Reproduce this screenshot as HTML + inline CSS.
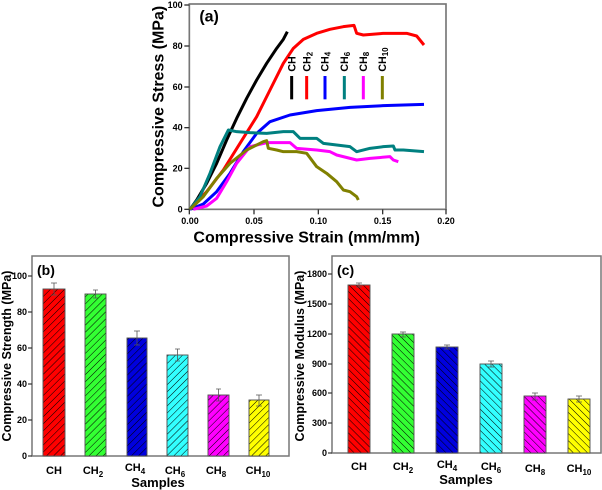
<!DOCTYPE html>
<html><head><style>body{margin:0;background:#fff}svg{display:block}text{font-family:"Liberation Sans",sans-serif;font-weight:bold}</style></head>
<body>
<svg width="602" height="490" viewBox="0 0 602 490" xmlns="http://www.w3.org/2000/svg">
<defs>
<pattern id="hb" width="5" height="5" patternUnits="userSpaceOnUse" patternTransform="rotate(45)"><line x1="0" y1="0" x2="0" y2="5" stroke="#000" stroke-width="1"/></pattern>
<pattern id="hc" width="5" height="5" patternUnits="userSpaceOnUse" patternTransform="rotate(-45)"><line x1="0" y1="0" x2="0" y2="5" stroke="#000" stroke-width="1"/></pattern>
</defs>
<g transform="translate(150,0) scale(0.33333)">
<rect x="118" y="12" width="770" height="616" fill="none" stroke="#777" stroke-width="5"/>
<g stroke="#333" stroke-width="4">
<line x1="118" y1="628" x2="103" y2="628"/><line x1="118" y1="505" x2="103" y2="505"/><line x1="118" y1="383" x2="103" y2="383"/><line x1="118" y1="261" x2="103" y2="261"/><line x1="118" y1="138" x2="103" y2="138"/><line x1="118" y1="15" x2="103" y2="15"/>
<line x1="118" y1="628" x2="118" y2="643"/><line x1="312" y1="628" x2="312" y2="643"/><line x1="505" y1="628" x2="505" y2="643"/><line x1="698" y1="628" x2="698" y2="643"/><line x1="888" y1="628" x2="888" y2="643"/>
</g>
<g font-size="27" text-anchor="end"><text x="98" y="637">0</text><text x="98" y="514">20</text><text x="98" y="392">40</text><text x="98" y="270">60</text><text x="98" y="147">80</text><text x="98" y="24">100</text></g>
<g font-size="27" text-anchor="middle"><text x="120" y="672">0.00</text><text x="312" y="672">0.05</text><text x="505" y="672">0.10</text><text x="698" y="672">0.15</text><text x="888" y="672">0.20</text></g>
<text x="470" y="728" font-size="48" text-anchor="middle">Compressive Strain (mm/mm)</text>
<text transform="translate(40,320) rotate(-90)" font-size="48" text-anchor="middle">Compressive Stress (MPa)</text>
<text x="148" y="65" font-size="48">(a)</text>
<g fill="none" stroke-width="9" stroke-linejoin="round">
<polyline stroke="#000" points="120,628 140,600 170,550 200,490 230,420 260,355 290,295 320,240 350,190 380,145 400,118 412,95"/>
<polyline stroke="#ff0000" points="120,628 170,575 220,510 270,430 320,350 360,270 400,190 430,145 460,118 500,100 540,88 580,80 612,76 620,100 640,105 700,100 770,100 800,108 822,135"/>
<polyline stroke="#0000ff" points="120,628 160,612 200,575 240,520 280,455 320,400 360,365 420,345 500,332 600,322 700,317 822,313"/>
<polyline stroke="#008080" points="120,628 150,590 180,520 210,440 235,390 260,395 300,398 350,400 400,395 430,395 450,415 500,415 520,430 560,435 600,440 620,455 660,445 700,440 730,438 735,450 760,450 822,455"/>
<polyline stroke="#ff00ff" points="130,628 170,618 200,595 230,545 260,490 300,440 350,428 420,428 440,445 500,450 540,455 560,465 620,480 660,475 720,470 730,480 745,485"/>
<polyline stroke="#808000" points="120,628 160,590 200,535 240,490 290,450 340,425 350,422 355,445 380,450 400,455 440,455 470,460 500,500 530,520 560,545 580,570 600,575 620,590 625,600"/>
<line x1="425" y1="228" x2="425" y2="298" stroke="#000"/>
<line x1="470" y1="228" x2="470" y2="298" stroke="#ff0000"/>
<line x1="525" y1="228" x2="525" y2="298" stroke="#0000ff"/>
<line x1="583" y1="228" x2="583" y2="298" stroke="#008080"/>
<line x1="640" y1="228" x2="640" y2="298" stroke="#ff00ff"/>
<line x1="697" y1="228" x2="697" y2="298" stroke="#808000"/>
</g>
<g font-size="32">
<text transform="translate(436,215) rotate(-90)">CH</text>
<text transform="translate(481,215) rotate(-90)">CH<tspan font-size="24" dy="6">2</tspan></text>
<text transform="translate(536,215) rotate(-90)">CH<tspan font-size="24" dy="6">4</tspan></text>
<text transform="translate(594,215) rotate(-90)">CH<tspan font-size="24" dy="6">6</tspan></text>
<text transform="translate(651,215) rotate(-90)">CH<tspan font-size="24" dy="6">8</tspan></text>
<text transform="translate(708,215) rotate(-90)">CH<tspan font-size="24" dy="6">10</tspan></text>
</g>
</g>
<g>
<rect x="32" y="256" width="257" height="200" fill="none" stroke="#777" stroke-width="1.5"/>
<g stroke="#333" stroke-width="1.2">
<line x1="32" y1="456" x2="28" y2="456"/><line x1="32" y1="420" x2="28" y2="420"/><line x1="32" y1="384" x2="28" y2="384"/><line x1="32" y1="348" x2="28" y2="348"/><line x1="32" y1="312" x2="28" y2="312"/><line x1="32" y1="276" x2="28" y2="276"/>
</g>
<g font-size="9" text-anchor="end"><text x="27" y="459">0</text><text x="27" y="423">20</text><text x="27" y="387">40</text><text x="27" y="351">60</text><text x="27" y="315">80</text><text x="27" y="279">100</text></g>
<text x="37" y="275" font-size="14">(b)</text>
<text transform="translate(11,356) rotate(-90)" font-size="12.5" text-anchor="middle">Compressive Strength (MPa)</text>
<g stroke="#555" stroke-width="0.8">
<rect x="43" y="289" width="22" height="167" fill="#ff0000"/><rect x="43" y="289" width="22" height="167" fill="url(#hb)"/>
<rect x="85" y="294" width="21" height="162" fill="#33ff33"/><rect x="85" y="294" width="21" height="162" fill="url(#hb)"/>
<rect x="127" y="338" width="20" height="118" fill="#0000dd"/><rect x="127" y="338" width="20" height="118" fill="url(#hb)"/>
<rect x="167" y="355" width="21" height="101" fill="#33ffff"/><rect x="167" y="355" width="21" height="101" fill="url(#hb)"/>
<rect x="208" y="395" width="21" height="61" fill="#ff00ff"/><rect x="208" y="395" width="21" height="61" fill="url(#hb)"/>
<rect x="249" y="400" width="20" height="56" fill="#ffff00"/><rect x="249" y="400" width="20" height="56" fill="url(#hb)"/>
<path d="M54 283V295M51 283h6M51 295h6 M95.5 290V298M93 290h5M93 298h5 M137 331V345M134 331h6M134 345h6 M177.5 349V361M175 349h5M175 361h5 M218.5 389V401M216 389h5M216 401h5 M259 395V406M256 395h6M256 406h6"/>
</g>
<g font-size="11" text-anchor="middle">
<text x="54" y="474">CH</text>
<text x="93" y="474">CH<tspan font-size="8" dy="3">2</tspan></text>
<text x="135" y="471">CH<tspan font-size="8" dy="3">4</tspan></text>
<text x="175" y="474">CH<tspan font-size="8" dy="3">6</tspan></text>
<text x="216" y="474">CH<tspan font-size="8" dy="3">8</tspan></text>
<text x="258" y="474">CH<tspan font-size="8" dy="3">10</tspan></text>
</g>
<text x="158" y="487" font-size="13" text-anchor="middle">Samples</text>
</g>
<g>
<rect x="332" y="256" width="269" height="197" fill="none" stroke="#777" stroke-width="1.5"/>
<g stroke="#333" stroke-width="1.2">
<line x1="332" y1="453" x2="328" y2="453"/><line x1="332" y1="423" x2="328" y2="423"/><line x1="332" y1="393" x2="328" y2="393"/><line x1="332" y1="364" x2="328" y2="364"/><line x1="332" y1="334" x2="328" y2="334"/><line x1="332" y1="304" x2="328" y2="304"/><line x1="332" y1="274" x2="328" y2="274"/>
</g>
<g font-size="9" text-anchor="end"><text x="327" y="456">0</text><text x="327" y="426">300</text><text x="327" y="396">600</text><text x="327" y="367">900</text><text x="327" y="337">1200</text><text x="327" y="307">1500</text><text x="327" y="277">1800</text></g>
<text x="337" y="275" font-size="14">(c)</text>
<text transform="translate(304,356) rotate(-90)" font-size="12.5" text-anchor="middle">Compressive Modulus (MPa)</text>
<g stroke="#555" stroke-width="0.8">
<rect x="348" y="285" width="22" height="168" fill="#ff0000"/><rect x="348" y="285" width="22" height="168" fill="url(#hc)"/>
<rect x="392" y="334" width="22" height="119" fill="#33ff33"/><rect x="392" y="334" width="22" height="119" fill="url(#hc)"/>
<rect x="436" y="347" width="22" height="106" fill="#0000dd"/><rect x="436" y="347" width="22" height="106" fill="url(#hc)"/>
<rect x="480" y="364" width="22" height="89" fill="#33ffff"/><rect x="480" y="364" width="22" height="89" fill="url(#hc)"/>
<rect x="524" y="396" width="22" height="57" fill="#ff00ff"/><rect x="524" y="396" width="22" height="57" fill="url(#hc)"/>
<rect x="568" y="399" width="22" height="54" fill="#ffff00"/><rect x="568" y="399" width="22" height="54" fill="url(#hc)"/>
<path d="M359 283V287M356 283h6M356 287h6 M403 332V337M400 332h6M400 337h6 M447 345V349M444 345h6M444 349h6 M491 361V367M488 361h6M488 367h6 M535 393V400M532 393h6M532 400h6 M579 396V402M576 396h6M576 402h6"/>
</g>
<g font-size="11" text-anchor="middle">
<text x="359" y="470">CH</text>
<text x="403" y="470">CH<tspan font-size="8" dy="3">2</tspan></text>
<text x="447" y="468">CH<tspan font-size="8" dy="3">4</tspan></text>
<text x="491" y="470">CH<tspan font-size="8" dy="3">6</tspan></text>
<text x="535" y="472">CH<tspan font-size="8" dy="3">8</tspan></text>
<text x="579" y="472">CH<tspan font-size="8" dy="3">10</tspan></text>
</g>
<text x="466" y="484" font-size="13" text-anchor="middle">Samples</text>
</g>
</svg>
</body></html>
